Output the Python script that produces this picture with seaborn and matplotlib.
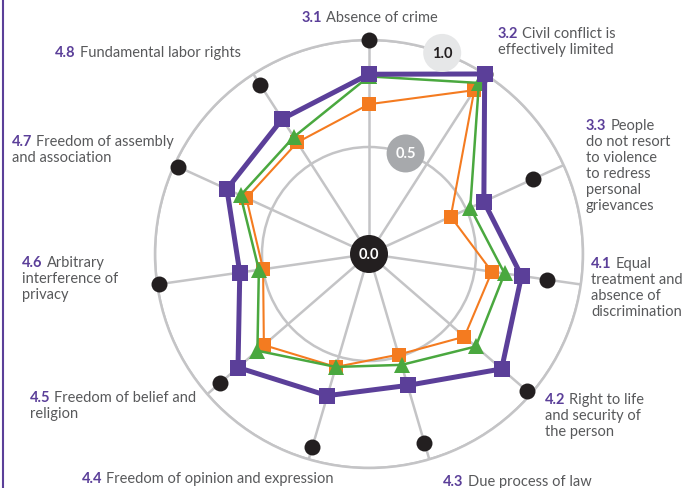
import numpy as np
import pandas as pd
import matplotlib.pyplot as plt
from matplotlib.lines import Line2D
import seaborn as sns

# factor codes and names, clockwise from the top
codes = ["3.1", "3.2", "3.3", "4.1", "4.2", "4.3", "4.4", "4.5", "4.6", "4.7", "4.8"]
names = [
    ["Absence of crime"],
    ["Civil conflict is", "effectively limited"],
    ["People", "do not resort", "to violence", "to redress", "personal", "grievances"],
    ["Equal", "treatment and", "absence of", "discrimination"],
    ["Right to life", "and security of", "the person"],
    ["Due process of law"],
    ["Freedom of opinion and expression"],
    ["Freedom of belief and", "religion"],
    ["Arbitrary", "interference of", "privacy"],
    ["Freedom of assembly", "and association"],
    ["Fundamental labor rights"],
]

# scores
country = [0.84, 1.00, 0.59, 0.72, 0.82, 0.64, 0.69, 0.81, 0.61, 0.73, 0.75]
region = [0.83, 0.95, 0.52, 0.64, 0.66, 0.54, 0.55, 0.69, 0.52, 0.66, 0.65]
income = [0.70, 0.91, 0.42, 0.58, 0.59, 0.49, 0.55, 0.65, 0.50, 0.63, 0.62]
top = [1.00, 1.00, 0.84, 0.84, 0.98, 0.92, 0.94, 0.92, 0.99, 0.98, 0.94]

PURPLE = "#5b3f99"
ORANGE = "#f47b20"
GREEN = "#4aa83f"
BLACK = "#231f20"
GRID = "#c4c4c6"
TEXT = "#58595b"

sns.set_theme(style="white")
plt.rcParams["font.family"] = ["Lato", "DejaVu Sans"]

W, H = 698, 489
fig = plt.figure(figsize=(W / 100, H / 100), dpi=100)

# polar axes placed so that the chart centre sits at (369, 255) px, radius 214 px
cx, cy, R = 369, 255, 214
ax = fig.add_axes([(cx - R) / W, (H - cy - R) / H, 2 * R / W, 2 * R / H],
                  projection="polar")
ax.set_theta_zero_location("N")
ax.set_theta_direction(-1)

n = len(codes)
theta = np.arange(n) * 2 * np.pi / n
ax.set_ylim(0, 1)
ax.set_xticks(theta)
ax.set_xticklabels([])
ax.set_yticks([0.5, 1.0])
ax.set_yticklabels([])
ax.grid(True, color=GRID, lw=1.8)
ax.spines["polar"].set_color(GRID)
ax.spines["polar"].set_linewidth(1.8)
ax.set_facecolor("none")

th_closed = np.append(theta, theta[0])

def closed(v):
    return np.append(v, v[0])

sns.scatterplot(x=theta, y=top, ax=ax, color=BLACK, s=11.5 ** 2, linewidth=0,
                clip_on=False, zorder=3)
sns.lineplot(x=th_closed, y=closed(income), ax=ax, sort=False, estimator=None,
             color=ORANGE, lw=1.5, marker="s", markersize=10, markeredgewidth=0,
             clip_on=False, zorder=4)
sns.lineplot(x=th_closed, y=closed(region), ax=ax, sort=False, estimator=None,
             color=GREEN, lw=1.8, marker="^", markersize=11, markeredgewidth=0,
             clip_on=False, zorder=5)
sns.lineplot(x=th_closed, y=closed(country), ax=ax, sort=False, estimator=None,
             color=PURPLE, lw=3.6, marker="s", markersize=11.5, markeredgewidth=0,
             clip_on=False, zorder=6)

# scale badges
badge_ang = np.deg2rad(20)
badge_kw = dict(ha="center", va="center", fontsize=10.5, fontweight="bold",
                zorder=8, clip_on=False)
ax.text(0, 0, "0.0", color="white",
        bbox=dict(boxstyle="circle,pad=0.6", fc=BLACK, ec="none"), **badge_kw)
ax.text(badge_ang, 0.5, "0.5", color="white",
        bbox=dict(boxstyle="circle,pad=0.6", fc="#a7a9ac", ec="none"), **badge_kw)
ax.text(badge_ang, 1.0, "1.0", color=BLACK,
        bbox=dict(boxstyle="circle,pad=0.6", fc="#e6e7e8", ec="none"), **badge_kw)

# factor labels: (x, y) of the first line centre, in pixels from top-left
label_pos = [(302, 18), (498, 34), (586, 126), (591, 264), (545, 400), (443, 482),
             (82, 479), (30, 398), (22, 263), (12, 142), (55, 53)]
line_h = 16
renderer = fig.canvas.get_renderer()
for code, lines, (x, y) in zip(codes, names, label_pos):
    t = fig.text(x / W, 1 - y / H, code, color=PURPLE, fontsize=10.5,
                 fontweight="bold", ha="left", va="center")
    w = t.get_window_extent(renderer).width
    fig.text((x + w + 4) / W, 1 - y / H, lines[0], color=TEXT, fontsize=10.5,
             ha="left", va="center")
    for i, line in enumerate(lines[1:], start=1):
        fig.text(x / W, 1 - (y + i * line_h) / H, line, color=TEXT, fontsize=10.5,
                 ha="left", va="center")

# purple rule on the left edge
fig.add_artist(Line2D([3 / W, 3 / W], [0, 1], color=PURPLE, lw=1.5))

fig.savefig("out.png", dpi=100)
